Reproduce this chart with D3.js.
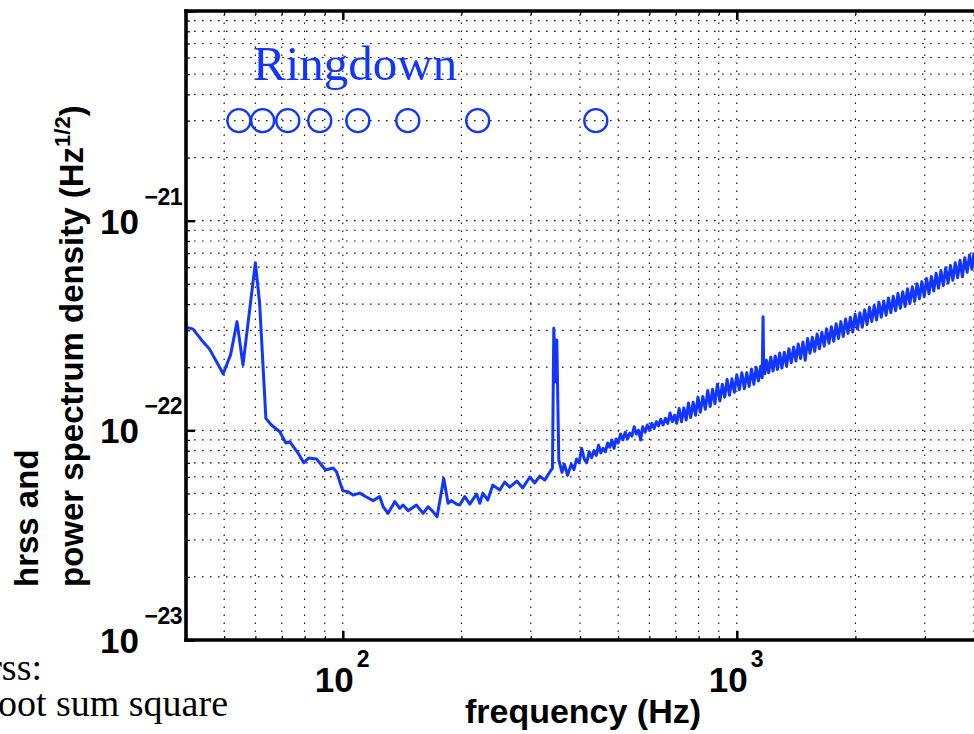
<!DOCTYPE html>
<html>
<head>
<meta charset="utf-8">
<script src="https://cdn.jsdelivr.net/npm/d3@7"></script>
<style>
  html, body { margin: 0; padding: 0; background: #fff; overflow: hidden; }
  svg { display: block; }
</style>
</head>
<body>
<svg id="chart" width="974" height="734"></svg>
<script>
// ---- data ----
const psdFreq = [
  40, 41.7, 43.8, 45.9, 49.7, 51.9, 53.9, 55.8, 60, 61.5, 63.8, 65.9, 69.2, 71.7, 73.4, 77.0, 79.6, 82.0, 85.8, 90.4,
  94.5, 96.4, 100, 103.1, 106.2, 110.4, 114.8, 119.4, 124.1, 126.6, 130.3, 135.5, 139.5, 142.2, 146.5, 153.8, 159.9, 164.6, 169.5, 173.5,
  180.4, 185.0, 188.7, 194.3, 198.1, 204.0, 210.1, 218.5, 222.7, 226.7, 233.3, 240.3, 250.3, 257.7, 265.4, 276.5, 286.3, 298.3, 307.1, 316.2,
  325.6, 335.3, 340.6, 343.2, 347.3, 349.3, 353.4,
  360, 365, 372, 380, 386, 392, 398, 404, 410, 416, 422, 428, 434, 440, 446, 452, 458, 464, 470, 476,
  482, 488, 494, 500, 507, 514, 521, 528, 535, 542, 549, 556, 563, 570, 577, 585, 593, 601, 609, 617,
  625, 633, 641, 650, 659, 668, 677, 686, 695, 704, 714, 724, 734, 744, 754, 764, 775, 786, 797, 808,
  820, 832, 844, 856, 868, 880, 893, 906, 919, 932, 945, 958, 972, 986, 1000, 1015, 1030, 1045, 1060, 1075,
  1090, 1105, 1120, 1135, 1150, 1160, 1166, 1170, 1178, 1190, 1205, 1220, 1236, 1252, 1268, 1285, 1302, 1320, 1338, 1356,
  1375, 1394, 1413, 1432, 1452, 1472, 1492, 1513, 1534, 1555, 1577, 1599, 1621, 1644, 1667, 1690, 1714, 1738, 1762, 1787,
  1812, 1837, 1863, 1889, 1915, 1942, 1969, 1997, 2025, 2053, 2082, 2111, 2141, 2171, 2201, 2232, 2263, 2295, 2327, 2360,
  2393, 2426, 2460, 2495, 2530, 2565, 2601, 2638, 2675, 2712, 2750, 2789, 2828, 2868, 2908, 2949, 2990, 3032, 3075, 3118,
  3162, 3206, 3251, 3297, 3343, 3390, 3438, 3486, 3535, 3585, 3635, 3686, 3738, 3790, 3843, 3897, 3952, 4000
];
const psdValue = [
  3.10e-22, 3.04e-22, 2.70e-22, 2.44e-22, 1.86e-22, 2.29e-22, 3.30e-22, 2.05e-22, 6.30e-22, 4.05e-22, 1.14e-22, 1.06e-22, 9.85e-23, 8.70e-23, 8.82e-23, 7.79e-23, 7.01e-23, 7.38e-23, 7.30e-23, 6.47e-23,
  6.61e-23, 6.35e-23, 5.15e-23, 5.10e-23, 4.91e-23, 5.02e-23, 4.81e-23, 4.62e-23, 4.83e-23, 4.32e-23, 4.02e-23, 4.57e-23, 4.25e-23, 4.40e-23, 4.14e-23, 4.40e-23, 4.02e-23, 4.32e-23, 4.09e-23, 3.87e-23,
  5.90e-23, 4.49e-23, 4.62e-23, 4.45e-23, 4.40e-23, 4.83e-23, 4.45e-23, 4.97e-23, 4.49e-23, 5.02e-23, 4.65e-23, 5.48e-23, 5.19e-23, 5.67e-23, 5.36e-23, 5.73e-23, 5.31e-23, 5.99e-23, 5.61e-23, 6.05e-23,
  5.79e-23, 6.33e-23, 6.61e-23, 3.07e-22, 1.70e-22, 2.70e-22, 7.22e-23,
  6.30e-23, 6.90e-23, 6.10e-23, 6.90e-23, 6.50e-23, 7.30e-23, 7.00e-23, 8.20e-23, 7.30e-23, 7.00e-23, 7.90e-23, 7.40e-23, 8.00e-23, 7.60e-23, 8.50e-23, 7.80e-23, 8.20e-23, 7.90e-23, 8.70e-23, 8.30e-23,
  9.00e-23, 8.20e-23, 9.10e-23, 8.70e-23, 9.60e-23, 9.00e-23, 9.80e-23, 9.10e-23, 9.70e-23, 9.40e-23, 1.04e-22, 9.60e-23, 1.00e-22, 9.00e-23, 1.04e-22, 9.80e-23, 1.06e-22, 1.00e-22, 1.08e-22, 1.02e-22,
  1.10e-22, 1.05e-22, 1.13e-22, 1.06e-22, 1.14e-22, 1.08e-22, 1.21e-22, 1.10e-22, 1.18e-22, 1.08e-22, 1.27e-22, 1.10e-22, 1.28e-22, 1.12e-22, 1.35e-22, 1.15e-22, 1.36e-22, 1.18e-22, 1.44e-22, 1.22e-22,
  1.45e-22, 1.26e-22, 1.55e-22, 1.30e-22, 1.57e-22, 1.34e-22, 1.66e-22, 1.38e-22, 1.66e-22, 1.44e-22, 1.75e-22, 1.47e-22, 1.76e-22, 1.52e-22, 1.84e-22, 1.56e-22, 1.88e-22, 1.58e-22, 1.88e-22, 1.62e-22,
  1.96e-22, 1.66e-22, 2.00e-22, 1.72e-22, 2.02e-22, 1.78e-22, 3.48e-22, 2.08e-22, 1.86e-22, 2.16e-22, 1.88e-22, 2.24e-22, 1.92e-22, 2.26e-22, 1.95e-22, 2.34e-22, 1.98e-22, 2.36e-22, 2.02e-22, 2.45e-22,
  2.10e-22, 2.50e-22, 2.14e-22, 2.58e-22, 2.20e-22, 2.64e-22, 2.16e-22, 2.74e-22, 2.33e-22, 2.78e-22, 2.38e-22, 2.88e-22, 2.45e-22, 2.94e-22, 2.52e-22, 3.05e-22, 2.60e-22, 3.12e-22, 2.66e-22, 3.22e-22,
  2.74e-22, 3.30e-22, 2.80e-22, 3.40e-22, 2.90e-22, 3.46e-22, 2.94e-22, 3.58e-22, 3.04e-22, 3.64e-22, 3.10e-22, 3.76e-22, 3.20e-22, 3.86e-22, 3.30e-22, 3.94e-22, 3.36e-22, 4.08e-22, 3.46e-22, 4.14e-22,
  3.54e-22, 4.28e-22, 3.64e-22, 4.36e-22, 3.72e-22, 4.50e-22, 3.82e-22, 4.58e-22, 3.90e-22, 4.74e-22, 4.02e-22, 4.84e-22, 4.12e-22, 5.00e-22, 4.24e-22, 5.12e-22, 4.34e-22, 5.30e-22, 4.48e-22, 5.42e-22,
  4.62e-22, 5.62e-22, 4.76e-22, 5.78e-22, 4.90e-22, 5.96e-22, 5.04e-22, 6.12e-22, 5.20e-22, 6.30e-22, 5.34e-22, 6.48e-22, 5.40e-22, 6.66e-22, 5.68e-22, 6.86e-22, 5.86e-22, 7.05e-22
];
const ringdownFreq = [54.5, 62.6, 72.5, 87.4, 109.2, 146.2, 220, 438.7];
const ringdownHrss = [3.0e-21, 3.0e-21, 3.0e-21, 3.0e-21, 3.0e-21, 3.0e-21, 3.0e-21, 3.0e-21];
const xTickExps = [2, 3];
const yTickExps = [-23, -22, -21];
const xDomain = [40, 4000];
const yDomain = [1e-23, 1e-20];

// ---- layout ----
const L = 186, R = 974, T = 11, B = 640;
const blue = "#1236ff";
const sans = "'Liberation Sans', Arial, Helvetica, sans-serif";
const serif = "'Liberation Serif', 'Times New Roman', serif";

const svg = d3.select("#chart");
const x = d3.scaleLog().domain(xDomain).range([L, R]);
const y = d3.scaleLog().domain(yDomain).range([B, T]);

// grid (dotted, at every major and minor tick)
const gx = x.ticks();
const gy = y.ticks();
const grid = svg.append("g").attr("stroke", "#1a1a1a").attr("stroke-width", 1.2)
  .attr("stroke-dasharray", "1.6,6.4").attr("fill", "none");
grid.selectAll("line.vx").data(gx.filter(d => x(d) > L + 1)).join("line")
  .attr("x1", d => x(d)).attr("x2", d => x(d)).attr("y1", B).attr("y2", T);
grid.selectAll("line.hy").data(gy.filter(d => y(d) < B - 1 && y(d) > T + 1)).join("line")
  .attr("y1", d => y(d)).attr("y2", d => y(d)).attr("x1", L).attr("x2", R);

// clip
svg.append("clipPath").attr("id", "clip").append("rect")
  .attr("x", L).attr("y", T).attr("width", R - L).attr("height", B - T);

// PSD line
const pts = psdFreq.map((f, i) => [f, psdValue[i]]);
const line = d3.line().x(d => x(d[0])).y(d => y(d[1]));
svg.append("path").datum(pts).attr("clip-path", "url(#clip)")
  .attr("d", line).attr("fill", "none").attr("stroke", blue)
  .attr("stroke-width", 3).attr("stroke-linejoin", "round");

// ringdown markers
svg.append("g").selectAll("circle").data(ringdownFreq.map((f, i) => [f, ringdownHrss[i]])).join("circle")
  .attr("cx", d => x(d[0])).attr("cy", d => y(d[1])).attr("r", 11.5)
  .attr("fill", "none").attr("stroke", blue).attr("stroke-width", 2.4);

svg.append("text").attr("x", 253).attr("y", 80)
  .attr("font-family", serif).attr("font-size", 49).attr("fill", blue)
  .text("Ringdown");

// axes: d3 axes for ticks (inward)
const isMajor = v => Math.abs(Math.log10(v) - Math.round(Math.log10(v))) < 1e-6;
const axB = svg.append("g").attr("transform", `translate(0,${B})`)
  .call(d3.axisBottom(x).tickValues(gx).tickSize(0).tickFormat(""));
const axT = svg.append("g").attr("transform", `translate(0,${T})`)
  .call(d3.axisTop(x).tickValues(gx).tickSize(0).tickFormat(""));
const axL = svg.append("g").attr("transform", `translate(${L},0)`)
  .call(d3.axisLeft(y).tickValues(gy).tickSize(0).tickFormat(""));
[axB, axT, axL].forEach(a => { a.select(".domain").remove(); });
axB.selectAll(".tick line").attr("y2", d => isMajor(d) ? -9 : -4)
  .attr("stroke", "#000").attr("stroke-width", d => isMajor(d) ? 2.5 : 1.2);
axT.selectAll(".tick line").attr("y2", d => isMajor(d) ? 9 : 4)
  .attr("stroke", "#000").attr("stroke-width", d => isMajor(d) ? 2.5 : 1.2);
axL.selectAll(".tick line").attr("x2", d => isMajor(d) ? 9 : 4)
  .attr("stroke", "#000").attr("stroke-width", d => isMajor(d) ? 2.5 : 1.2);

// frame
const frame = svg.append("g").attr("stroke", "#000").attr("stroke-width", 3.6).attr("stroke-linecap", "square");
frame.append("line").attr("x1", L).attr("x2", L).attr("y1", T).attr("y2", B);
frame.append("line").attr("x1", L).attr("x2", R + 5).attr("y1", B).attr("y2", B);
frame.append("line").attr("x1", L).attr("x2", R + 5).attr("y1", T).attr("y2", T);

// tick labels
const lab = svg.append("g").attr("font-family", sans).attr("font-weight", "bold").attr("fill", "#000");
xTickExps.forEach(e => {
  const px = x(Math.pow(10, e));
  lab.append("text").attr("x", px + 11).attr("y", 692).attr("text-anchor", "end")
    .attr("font-size", 35).text("10");
  lab.append("text").attr("x", px + 14).attr("y", 667).attr("text-anchor", "start")
    .attr("font-size", 23).text(String(e));
});
yTickExps.forEach(e => {
  const py = y(Math.pow(10, e));
  lab.append("text").attr("x", 139).attr("y", py + 13).attr("text-anchor", "end")
    .attr("font-size", 35).text("10");
  lab.append("text").attr("x", 182).attr("y", py - 16).attr("text-anchor", "end")
    .attr("font-size", 23).attr("letter-spacing", -0.5).text("\u2212" + String(-e));
});

// axis titles
lab.append("text").attr("x", 583).attr("y", 723).attr("text-anchor", "middle")
  .attr("font-size", 34).text("frequency (Hz)");
lab.append("text").attr("transform", "translate(38,587) rotate(-90)")
  .attr("font-size", 33).text("hrss and");
const yt = lab.append("text").attr("transform", "translate(83,587) rotate(-90)")
  .attr("font-size", 33);
yt.append("tspan").text("power spectrum density (Hz");
yt.append("tspan").attr("dy", -13).attr("font-size", 22).text("1/2");
yt.append("tspan").attr("dy", 13).text(")");

// bottom-left note (partially off-canvas, as in the reference)
const note = svg.append("g").attr("font-family", serif).attr("font-size", 38).attr("fill", "#000");
note.append("text").attr("x", 42).attr("y", 680).attr("text-anchor", "end").text("hrss:");
note.append("text").attr("x", 228).attr("y", 716).attr("text-anchor", "end").text("root sum square");
</script>
</body>
</html>
